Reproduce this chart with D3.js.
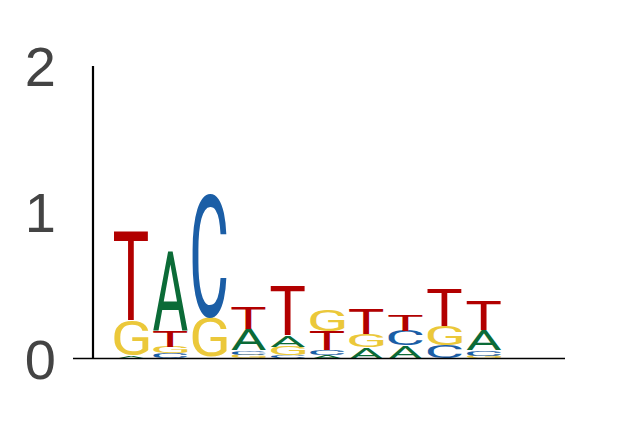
<!DOCTYPE html>
<html>
<head>
<meta charset="utf-8">
<script src="https://d3js.org/d3.v7.min.js"></script>
<style>
body { margin: 0; background: #fff; }
</style>
</head>
<body>
<script>
// positions 1..10, information content (bits) per base
var positions = [1, 2, 3, 4, 5, 6, 7, 8, 9, 10];
var bases = ['A', 'C', 'G', 'T'];
var heightsA = [0.02, 0.545, 0.012, 0.15, 0.076, 0.025, 0.076, 0.09, 0.0, 0.14];
var heightsC = [0.0, 0.038, 0.84, 0.03, 0.02, 0.035, 0.0, 0.10, 0.09, 0.035];
var heightsG = [0.24, 0.042, 0.27, 0.025, 0.062, 0.15, 0.09, 0.0, 0.13, 0.02];
var heightsT = [0.61, 0.11, 0.0, 0.155, 0.34, 0.125, 0.17, 0.11, 0.255, 0.2];
var yTicks = [0, 1, 2];

var colors = {A: '#0b6b37', C: '#1b5ea6', G: '#ebc83a', T: '#b20000'};

var width = 631, height = 429;
var margin = {top: 66, right: 66, bottom: 73, left: 73};

var svg = d3.select('body').append('svg').attr('width', width).attr('height', height);

var x = d3.scaleBand().domain(positions).range([111.4, 503.4]).paddingInner(0.12).paddingOuter(0.06);
var y = d3.scaleLinear().domain([0, 2]).range([height - margin.bottom + 2.5, margin.top]);

//measure ink bounds of each glyph so it can be stretched to its box
var fontSize = 100;
var fontSpec = '400 ' + fontSize + 'px Roboto';
var ctx = document.createElement('canvas').getContext('2d');
ctx.font = fontSpec;
var ink = {};
bases.forEach(function(b) {
	var m = ctx.measureText(b);
	ink[b] = {l: m.actualBoundingBoxLeft, r: m.actualBoundingBoxRight, a: m.actualBoundingBoxAscent, d: m.actualBoundingBoxDescent};
});

var table = {A: heightsA, C: heightsC, G: heightsG, T: heightsT};
var letters = [];
positions.forEach(function(p, i) {
	var col = bases.map(function(b) { return {base: b, h: table[b][i]}; })
		.filter(function(d) { return d.h > 0; })
		.sort(function(a, b) { return a.h - b.h; });
	var acc = 0;
	col.forEach(function(d) {
		letters.push({pos: p, base: d.base, y0: acc, y1: acc + d.h});
		acc += d.h;
	});
});

var logo = svg.append('g');
logo.selectAll('text').data(letters).enter().append('text')
	.text(function(d) { return d.base; })
	.attr('fill', function(d) { return colors[d.base]; })
	.style('font', fontSpec)
	.attr('transform', function(d) {
		var g = ink[d.base];
		var w = x.bandwidth(), h = y(d.y0) - y(d.y1);
		var sx = w / (g.l + g.r), sy = h / (g.a + g.d);
		return 'translate(' + x(d.pos) + ',' + y(d.y1) + ') scale(' + sx + ',' + sy + ') translate(' + g.l + ',' + g.a + ')';
	});

//axes: plain lines, no tick marks
svg.append('line').attr('x1', margin.left).attr('x2', width - margin.right)
	.attr('y1', y(0)).attr('y2', y(0)).attr('stroke', '#000').attr('stroke-width', 1.6);
svg.append('line').attr('x1', 93).attr('x2', 93)
	.attr('y1', y(0)).attr('y2', y(2)).attr('stroke', '#000').attr('stroke-width', 2.2);

svg.append('g').selectAll('text').data(yTicks).enter().append('text')
	.attr('x', 56).attr('y', function(d) { return y(d); })
	.attr('dy', '0.36em')
	.attr('text-anchor', 'end')
	.attr('fill', '#444')
	.style('font', '56px "Liberation Sans", Arial, sans-serif')
	.text(function(d) { return d; });
</script>
</body>
</html>
